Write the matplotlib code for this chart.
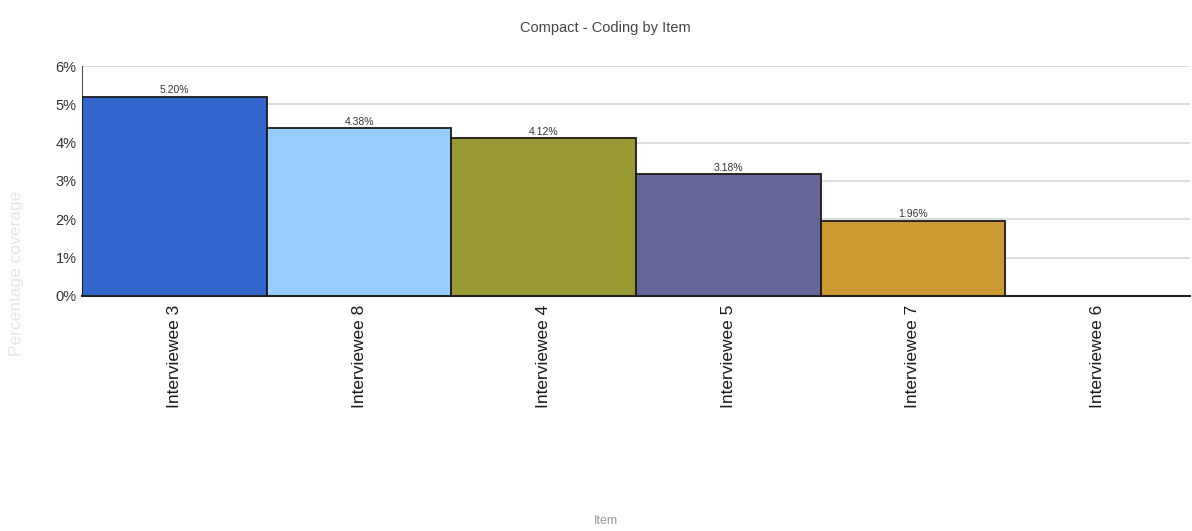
import matplotlib
matplotlib.use('Agg')
import matplotlib.pyplot as plt
from matplotlib.ticker import FuncFormatter

plt.rcParams['font.family'] = ['Liberation Sans', 'DejaVu Sans']

# Coverage per interviewee, in percent
items = ['Interviewee 3', 'Interviewee 8', 'Interviewee 4',
         'Interviewee 5', 'Interviewee 7', 'Interviewee 6']
coverage = [5.20, 4.38, 4.12, 3.18, 1.96, 0.0]
colors = ['#3366cc', '#99ccff', '#999933', '#666699', '#cc9933', '#ffffff']

fig = plt.figure(figsize=(11.92, 5.31), dpi=100)
ax = fig.add_axes([0.0688, 0.4426, 0.9295, 0.4331])

x = list(range(len(items)))
ax.bar(x, coverage, width=1.0, color=colors, edgecolor='#1a1a1a',
       linewidth=1.3, zorder=3)

# Value labels above the bars that have coverage
for xi, v in zip(x, coverage):
    if v > 0:
        ax.text(xi, v + 0.04, f'{v:.2f}%', ha='center', va='bottom',
                fontsize=7.5, color='#333333', zorder=4)

ax.set_xlim(-0.5, len(items) - 0.5)
ax.set_ylim(0, 6)
ax.set_yticks(range(0, 7))
ax.yaxis.set_major_formatter(FuncFormatter(lambda v, p: f'{v:.0f}%'))
ax.set_xticks(x)
ax.set_xticklabels(items, rotation=90, fontsize=12.5, color='#1a1a1a')

ax.grid(axis='y', color='#d6d6d6', linewidth=1.2, zorder=0)
ax.tick_params(axis='y', length=0, labelsize=10.5, colors='#333333', pad=4)
ax.tick_params(axis='x', length=0, pad=6)

for side in ['top', 'right']:
    ax.spines[side].set_visible(False)
ax.spines['left'].set_color('#555555')
ax.spines['bottom'].set_color('#222222')
ax.spines['bottom'].set_linewidth(1.5)
ax.spines['bottom'].set_zorder(5)

fig.text(0.508, 0.947, 'Compact - Coding by Item', ha='center', va='center',
         fontsize=10.5, color='#444444')
fig.text(0.014, 0.485, 'Percentage coverage', rotation=90, ha='center',
         va='center', fontsize=12.5, color='#e6e6e6')
fig.text(0.508, 0.018, 'Item', ha='center', va='center', fontsize=9,
         color='#999999')

fig.savefig('out.png', dpi=100)
